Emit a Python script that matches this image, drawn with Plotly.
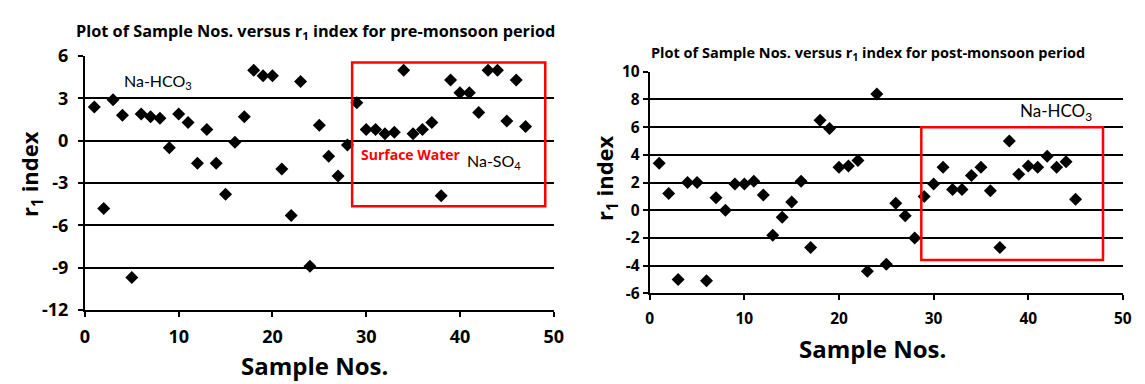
import plotly.graph_objects as go

# ---------------- data ----------------
pre_sample = list(range(1, 48))
pre_r1 = [2.4, -4.8, 2.9, 1.8, -9.7, 1.9, 1.7, 1.6, -0.5, 1.9,
          1.3, -1.6, 0.8, -1.6, -3.8, -0.1, 1.7, 5.0, 4.6, 4.6,
          -2.0, -5.3, 4.2, -8.9, 1.1, -1.1, -2.5, -0.3, 2.7, 0.8,
          0.8, 0.5, 0.6, 5.0, 0.5, 0.8, 1.3, -3.9, 4.3, 3.4,
          3.4, 2.0, 5.0, 5.0, 1.4, 4.3, 1.0]

post_sample = list(range(1, 46))
post_r1 = [3.4, 1.2, -5.0, 2.0, 2.0, -5.1, 0.9, 0.0, 1.9, 1.9,
           2.1, 1.1, -1.8, -0.5, 0.6, 2.1, -2.7, 6.5, 5.9, 3.1,
           3.2, 3.6, -4.4, 8.4, -3.9, 0.5, -0.4, -2.0, 1.0, 1.9,
           3.1, 1.5, 1.5, 2.5, 3.1, 1.4, -2.7, 5.0, 2.6, 3.2,
           3.1, 3.9, 3.1, 3.5, 0.8]

pre_yticks = [-12, -9, -6, -3, 0, 3, 6]
pre_yticktext = ["-12", "-9", "-6", "-3", "0", "3", "6"]
post_yticks = [-6, -4, -2, 0, 2, 4, 6, 8, 10]
post_yticktext = ["-6", "-4", "-2", "0", "2", "4", "6", "8", "10"]
xticks = [0, 10, 20, 30, 40, 50]
xticktext = ["0", "10", "20", "30", "40", "50"]

# boxes (x0, x1, y0, y1)
pre_box = (28.5, 49.1, -4.65, 5.55)
post_box = (28.7, 47.9, -3.6, 6.0)

W, H = 1145, 384
REG = "Lato"
BOLD = "Open Sans"

fig = go.Figure()
fig.add_trace(go.Scatter(x=pre_sample, y=pre_r1, mode="markers",
                         marker=dict(symbol="diamond", size=10, color="black"),
                         xaxis="x", yaxis="y", showlegend=False))
fig.add_trace(go.Scatter(x=post_sample, y=post_r1, mode="markers",
                         marker=dict(symbol="diamond", size=10, color="black"),
                         xaxis="x2", yaxis="y2", showlegend=False))


def px_dom(a, b):
    return [a / W, b / W]


def py_dom(top, bottom):
    return [1 - bottom / H, 1 - top / H]


def px(x):
    return x / W


def py(y):
    return 1 - y / H


axis_common = dict(showline=True, linecolor="black", linewidth=2,
                   ticks="outside", tickcolor="black", tickwidth=2, ticklen=5,
                   zeroline=False, color="black")

fig.update_layout(
    width=W, height=H, margin=dict(l=0, r=0, t=0, b=0),
    paper_bgcolor="white", plot_bgcolor="white",
    font=dict(family=REG, color="black"),
    xaxis=dict(domain=px_dom(81, 556), range=[0, 50],
               tickvals=xticks, ticktext=xticktext, ticklabelstandoff=4,
               showgrid=False, anchor="y",
               tickfont=dict(size=18, weight="bold", family=BOLD), **axis_common),
    yaxis=dict(domain=py_dom(46, 316.7), range=[-12, 6],
               tickvals=pre_yticks, ticktext=pre_yticktext, ticklabelstandoff=6,
               showgrid=True, gridcolor="black", gridwidth=2, anchor="x",
               tickfont=dict(size=18, weight="bold", family=BOLD), **axis_common),
    xaxis2=dict(domain=px_dom(653.3, 1132.7), range=[0, 50],
                tickvals=xticks, ticktext=xticktext, ticklabelstandoff=5,
                showgrid=False, anchor="y2",
                tickfont=dict(size=15.5, weight="bold", family=BOLD), **axis_common),
    yaxis2=dict(domain=py_dom(62.7, 299), range=[-6, 10],
                tickvals=post_yticks, ticktext=post_yticktext,
                showgrid=True, gridcolor="black", gridwidth=2, anchor="x2",
                tickfont=dict(size=15.5, weight="bold", family=BOLD), **axis_common),
)

# red boxes
fig.add_shape(type="rect", xref="x", yref="y", x0=pre_box[0], x1=pre_box[1],
              y0=pre_box[2], y1=pre_box[3], line=dict(color="red", width=2.5))
fig.add_shape(type="rect", xref="x2", yref="y2", x0=post_box[0], x1=post_box[1],
              y0=post_box[2], y1=post_box[3], line=dict(color="red", width=2.5))


def ann(x, y, text, size, xref="paper", yref="paper", color="black",
        bold=False, angle=0):
    fig.add_annotation(x=x, y=y, xref=xref, yref=yref, text=text,
                       showarrow=False, xanchor="center", yanchor="middle",
                       textangle=angle, borderpad=0,
                       font=dict(size=size, color=color,
                                 family=BOLD if bold else REG,
                                 weight="bold" if bold else "normal"))


# in-plot labels
ann(7.8, 4.2, "Na-HCO<sub>3</sub>", 16, "x", "y")
ann(34.8, -1.0, "Surface Water", 14, "x", "y", color="red", bold=True)
ann(43.6, -1.5, "Na-SO<sub>4</sub>", 16, "x", "y")
ann(42.9, 7.1, "Na-HCO<sub>3</sub>", 17, "x2", "y2")

# titles
ann(px(315), py(20),
    "Plot of Sample Nos. versus r<sub>1</sub> index for pre-monsoon period",
    16.3, bold=True)
ann(px(874.5), py(43.5),
    "Plot of Sample Nos. versus r<sub>1</sub> index for post-monsoon period",
    14.5, bold=True)

# axis titles
ann(px(27), py(172), "r<sub>1</sub> index", 22, bold=True, angle=-90)
ann(px(314), py(376), "Sample Nos.", 24, bold=True)
ann(px(609), py(176), "r<sub>1</sub> index", 22, bold=True, angle=-90)
ann(px(879), py(358), "Sample Nos.", 24, bold=True)

fig.write_html("out.html")
